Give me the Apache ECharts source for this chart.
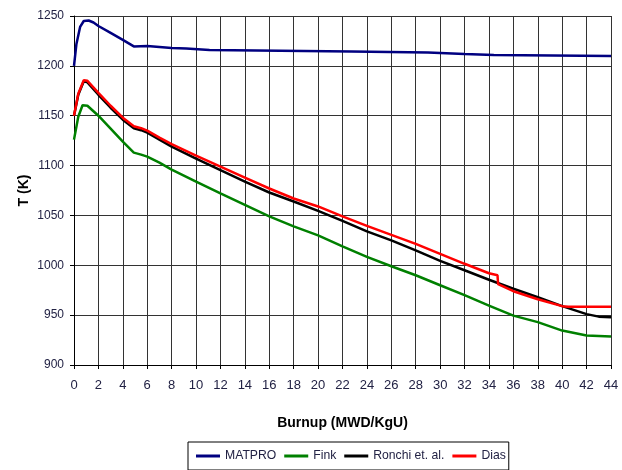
<!DOCTYPE html>
<html>
<head>
<meta charset="utf-8">
<script src="https://cdn.jsdelivr.net/npm/echarts@6/dist/echarts.min.js"></script>
<style>
html,body{margin:0;padding:0;background:#fff;}
#chart{width:622px;height:470px;}
</style>
</head>
<body>
<div id="chart"></div>
<script>
// Burnup ticks
var xTicks = [0,2,4,6,8,10,12,14,16,18,20,22,24,26,28,30,32,34,36,38,40,42,44];
var yTicks = [900,950,1000,1050,1100,1150,1200,1250];

var seriesNames = ['MATPRO', 'Fink', 'Ronchi et. al.', 'Dias'];

// MATPRO
var matproX = [0,0.2,0.5,0.8,1.2,1.6,2,3,4,4.9,6,7,8,9.2,9.3,11.1,11.2,22.7,22.8,29,29.1,32,32.1,34.4,34.5,44];
var matproT = [1200,1222,1239,1245,1245.5,1243.5,1240,1233,1226,1219.5,1220,1219,1218,1217.5,1216,1216,1214.5,1214.5,1213.5,1213.5,1212.5,1212,1211,1211,1210,1210];

// Fink
var finkX = [0,0.35,0.7,1.1,2,3,4,4.9,5.5,6,7,8,10,12,14,16,18,20,22,24,26,28,30,32,34,36,38,40,42,43,44];
var finkT = [1126,1149,1160.5,1160,1150,1137,1124,1113,1111,1109,1103,1096,1084,1072,1060.5,1049,1039,1030,1019,1008.5,999,990,980,970,959.5,949.5,943,934.5,929.5,929,928.5];

// Ronchi et. al.
var ronchiX = [0,0.35,0.8,1.1,2,3,4,4.9,5.5,6,7,8,10,12,14,16,18,20,22,24,26,28,30,32,34,36,38,40,41,42,43,44];
var ronchiT = [1150,1171,1184.5,1183.5,1171,1158,1146,1137.5,1135.5,1133,1126,1119,1107,1095.5,1084,1073,1064,1054.5,1044.5,1034,1025,1015,1004.5,995,985.5,976.5,968,959,955,951,948.5,948];

// Dias
var diasX = [0,0.35,0.8,1.1,2,3,4,4.9,5.5,6,7,8,10,12,14,16,18,20,22,24,26,28,30,32,34,34.7,34.75,36,38,40,40.5,44];
var diasT = [1150,1172,1185.5,1185,1173,1160,1148,1139.5,1137.5,1135,1128,1121.5,1110,1099,1088,1077,1067,1059,1049,1039.5,1030.5,1021.5,1011.5,1001.5,992,990,981,974,966,959,958.5,958.5];

var colors = ['#000080', '#008000', '#000000', '#ff0000'];

function pairs(xs, ys) { return xs.map(function (x, i) { return [x, ys[i]]; }); }
var allX = [matproX, finkX, ronchiX, diasX];
var allT = [matproT, finkT, ronchiT, diasT];

var tickColor = '#222244';
var sans = '"Liberation Sans", Arial, sans-serif';

var chart = echarts.init(document.getElementById('chart'), null, {renderer: 'canvas'});
chart.setOption({
  animation: false,
  backgroundColor: '#ffffff',
  color: colors,
  grid: {left: 74, right: 11, top: 16, bottom: 105, containLabel: false},
  legend: {
    data: seriesNames,
    left: 188,
    top: 442,
    orient: 'horizontal',
    icon: 'rect',
    itemWidth: 24,
    itemHeight: 3,
    itemGap: 8,
    borderColor: '#000',
    borderWidth: 1,
    borderRadius: 0,
    padding: [8, 3, 8, 8],
    textStyle: {fontSize: 12.2, fontFamily: sans, color: tickColor}
  },
  xAxis: {
    type: 'value',
    min: xTicks[0],
    max: xTicks[xTicks.length - 1],
    interval: xTicks[1] - xTicks[0],
    name: 'Burnup (MWD/KgU)',
    nameLocation: 'middle',
    nameGap: 51,
    nameTextStyle: {fontSize: 14, fontWeight: 'bold', color: '#000', fontFamily: sans},
    axisLine: {show: true, lineStyle: {color: '#000', width: 1}},
    axisTick: {show: true, inside: false, length: 4, lineStyle: {color: '#000'}},
    axisLabel: {fontSize: 13, margin: 14, color: tickColor, fontFamily: sans},
    splitLine: {show: true, lineStyle: {color: '#333', width: 1}}
  },
  yAxis: {
    type: 'value',
    min: yTicks[0],
    max: yTicks[yTicks.length - 1],
    interval: yTicks[1] - yTicks[0],
    name: 'T (K)',
    nameLocation: 'middle',
    nameGap: 43,
    nameMoveOverlap: false,
    nameRotate: 90,
    nameTextStyle: {fontSize: 14, fontWeight: 'bold', color: '#000', fontFamily: sans},
    axisLine: {show: true, lineStyle: {color: '#000', width: 1}},
    axisTick: {show: true, inside: false, length: 4, lineStyle: {color: '#000'}},
    axisLabel: {fontSize: 12, margin: 10, color: tickColor, fontFamily: sans,
      formatter: function (v) { return String(v); }},
    splitLine: {show: true, lineStyle: {color: '#333', width: 1}}
  },
  series: seriesNames.map(function (name, i) {
    return {
      name: name,
      type: 'line',
      data: pairs(allX[i], allT[i]),
      showSymbol: false,
      symbol: 'none',
      smooth: false,
      lineStyle: {width: 2.5, color: colors[i]},
      itemStyle: {color: colors[i]},
      z: 2 + i
    };
  })
});
</script>
</body>
</html>
